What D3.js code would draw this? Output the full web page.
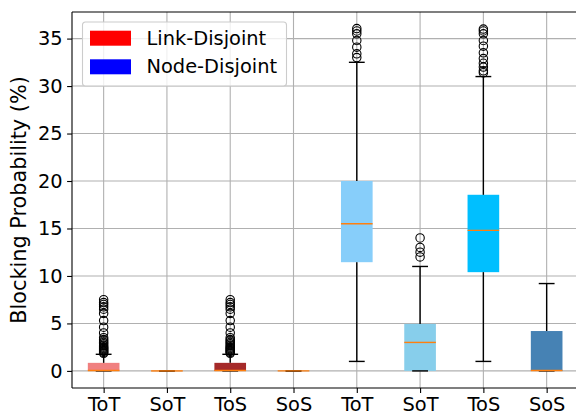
<!DOCTYPE html>
<html>
<head>
<meta charset="utf-8">
<script src="https://cdn.jsdelivr.net/npm/d3@7"></script>
<style>
  body { margin: 0; background: #fff; }
  svg { font-family: "DejaVu Sans", sans-serif; }
</style>
</head>
<body>
<svg id="chart" width="576" height="417"></svg>
<script>
// Box statistics (blocking probability, %)
const categories = ["ToT", "SoT", "ToS", "SoS", "ToT", "SoT", "ToS", "SoS"];
const q1 = [0, 0, 0, 0, 11.45, 0, 10.4, 0];
const medians = [0.05, 0, 0.05, 0, 15.5, 3.0, 14.8, 0.05];
const q3 = [0.85, 0, 0.85, 0, 20.0, 4.95, 18.55, 4.2];
const whiskerLow = [0, 0, 0, 0, 1.0, 0, 1.0, 0];
const whiskerHigh = [1.75, 0, 1.75, 0, 32.5, 11.0, 31.0, 9.2];
const outliers = [
  [1.85, 1.95, 2.05, 2.15, 2.25, 2.35, 2.45, 2.55, 2.7, 2.85, 3.0, 3.15, 3.3, 3.5, 4.0, 4.6, 5.3, 6.05, 6.5, 6.75, 7.0, 7.2, 7.5],
  [],
  [1.85, 1.95, 2.05, 2.15, 2.25, 2.35, 2.45, 2.55, 2.7, 2.85, 3.0, 3.15, 3.3, 3.5, 4.0, 4.6, 5.3, 6.05, 6.5, 6.75, 7.0, 7.2, 7.5],
  [],
  [33.0, 33.4, 34.1, 34.8, 35.5, 35.8, 36.05],
  [12.0, 12.5, 13.0, 14.0],
  [31.4, 31.6, 32.0, 32.4, 32.9, 33.5, 34.2, 34.8, 35.5, 35.8, 36.0],
  []
];
const yTicks = [0, 5, 10, 15, 20, 25, 30, 35];
const legendLabels = ["Link-Disjoint", "Node-Disjoint"];

// Styles
const boxColors = ["#f08080", "#fa8072", "#a52a2a", "#cd5c5c", "#87cefa", "#87ceeb", "#00bfff", "#4682b4"];
const legendColors = ["#ff0000", "#0000ff"];

function drawChart() {
  const margin = { top: 12, right: -2.3, bottom: 29, left: 72 },
    width = 576,
    height = 417,
    plotRight = width - margin.right,
    plotBottom = height - margin.bottom;

  const svg = d3.select("#chart");

  const x = d3.scaleLinear().domain([0.5, categories.length + 0.5]).range([margin.left, plotRight]);
  const y = d3.scaleLinear().domain([-1.8, 37.8]).range([plotBottom, margin.top]);
  const unit = x(1) - x(0);
  const boxW = 0.5 * unit, capW = 0.25 * unit;

  // Grid
  const grid = svg.append("g").attr("stroke", "#b0b0b0").attr("stroke-width", 1.1);
  grid.selectAll("line.gx").data(categories).enter().append("line")
    .attr("x1", (d, i) => x(i + 1)).attr("x2", (d, i) => x(i + 1))
    .attr("y1", margin.top).attr("y2", plotBottom);
  grid.selectAll("line.gy").data(yTicks).enter().append("line")
    .attr("x1", margin.left).attr("x2", plotRight)
    .attr("y1", d => y(d)).attr("y2", d => y(d));

  // Boxes
  const boxes = svg.append("g").selectAll("g").data(categories).enter().append("g");

  boxes.append("rect")
    .attr("x", (d, i) => x(i + 1) - boxW / 2)
    .attr("width", boxW)
    .attr("y", (d, i) => y(q3[i]))
    .attr("height", (d, i) => y(q1[i]) - y(q3[i]))
    .attr("fill", (d, i) => boxColors[i]);

  // Whiskers
  boxes.append("line")
    .attr("x1", (d, i) => x(i + 1)).attr("x2", (d, i) => x(i + 1))
    .attr("y1", (d, i) => y(q3[i])).attr("y2", (d, i) => y(whiskerHigh[i]))
    .attr("stroke", "#000").attr("stroke-width", 1.4);
  boxes.append("line")
    .attr("x1", (d, i) => x(i + 1)).attr("x2", (d, i) => x(i + 1))
    .attr("y1", (d, i) => y(q1[i])).attr("y2", (d, i) => y(whiskerLow[i]))
    .attr("stroke", "#000").attr("stroke-width", 1.4);

  // Caps
  [whiskerHigh, whiskerLow].forEach(arr => {
    boxes.append("line")
      .attr("x1", (d, i) => x(i + 1) - capW / 2).attr("x2", (d, i) => x(i + 1) + capW / 2)
      .attr("y1", (d, i) => y(arr[i])).attr("y2", (d, i) => y(arr[i]))
      .attr("stroke", "#000").attr("stroke-width", 1.4);
  });

  // Medians
  boxes.append("line")
    .attr("x1", (d, i) => x(i + 1) - boxW / 2).attr("x2", (d, i) => x(i + 1) + boxW / 2)
    .attr("y1", (d, i) => y(medians[i])).attr("y2", (d, i) => y(medians[i]))
    .attr("stroke", "#ff7f0e").attr("stroke-width", 1.4);

  // Fliers
  boxes.each(function (d, i) {
    d3.select(this).selectAll("circle").data(outliers[i]).enter().append("circle")
      .attr("cx", x(i + 1)).attr("cy", v => y(v)).attr("r", 4.2)
      .attr("fill", "none").attr("stroke", "#000").attr("stroke-width", 1.1);
  });

  // Axes
  const axisX = d3.axisBottom(x).tickValues(categories.map((d, i) => i + 1))
    .tickFormat((d, i) => categories[i]).tickSize(4.9).tickPadding(4.5);
  const axisY = d3.axisLeft(y).tickValues(yTicks).tickSize(4.9).tickPadding(4.5);

  const gx = svg.append("g").attr("transform", "translate(0," + plotBottom + ")").call(axisX);
  const gy = svg.append("g").attr("transform", "translate(" + margin.left + ",0)").call(axisY);
  [gx, gy].forEach(g => {
    g.select(".domain").remove();
    g.selectAll("line").attr("stroke", "#000").attr("stroke-width", 1.1);
    g.selectAll("text").attr("font-size", "19.4px").attr("fill", "#000")
      .attr("font-family", "DejaVu Sans");
  });

  // Spines
  svg.append("line").attr("x1", margin.left).attr("x2", margin.left)
    .attr("y1", margin.top).attr("y2", plotBottom).attr("stroke", "#000").attr("stroke-width", 1.1);
  svg.append("line").attr("x1", margin.left).attr("x2", plotRight)
    .attr("y1", plotBottom).attr("y2", plotBottom).attr("stroke", "#000").attr("stroke-width", 1.1);
  svg.append("line").attr("x1", margin.left).attr("x2", plotRight)
    .attr("y1", margin.top).attr("y2", margin.top).attr("stroke", "#000").attr("stroke-width", 1.1);

  // Y label
  svg.append("text")
    .attr("transform", "translate(25.5," + (margin.top + plotBottom) / 2 + ") rotate(-90)")
    .attr("text-anchor", "middle")
    .attr("font-size", "20.8px")
    .text("Blocking Probability (%)");

  // Legend
  const lg = svg.append("g").attr("transform", "translate(82.5,22)");
  lg.append("rect").attr("width", 204).attr("height", 64).attr("rx", 3)
    .attr("fill", "#fff").attr("fill-opacity", 0.8)
    .attr("stroke", "#cccccc").attr("stroke-width", 1.1);
  const items = lg.selectAll("g").data(legendLabels).enter().append("g")
    .attr("transform", (d, i) => "translate(7.5," + (8.7 + i * 28.6) + ")");
  items.append("rect").attr("width", 41).attr("height", 15)
    .attr("fill", (d, i) => legendColors[i]);
  items.append("text").attr("x", 56.5).attr("y", 14).attr("font-size", "19.4px").text(d => d);
}

drawChart();
</script>
</body>
</html>
